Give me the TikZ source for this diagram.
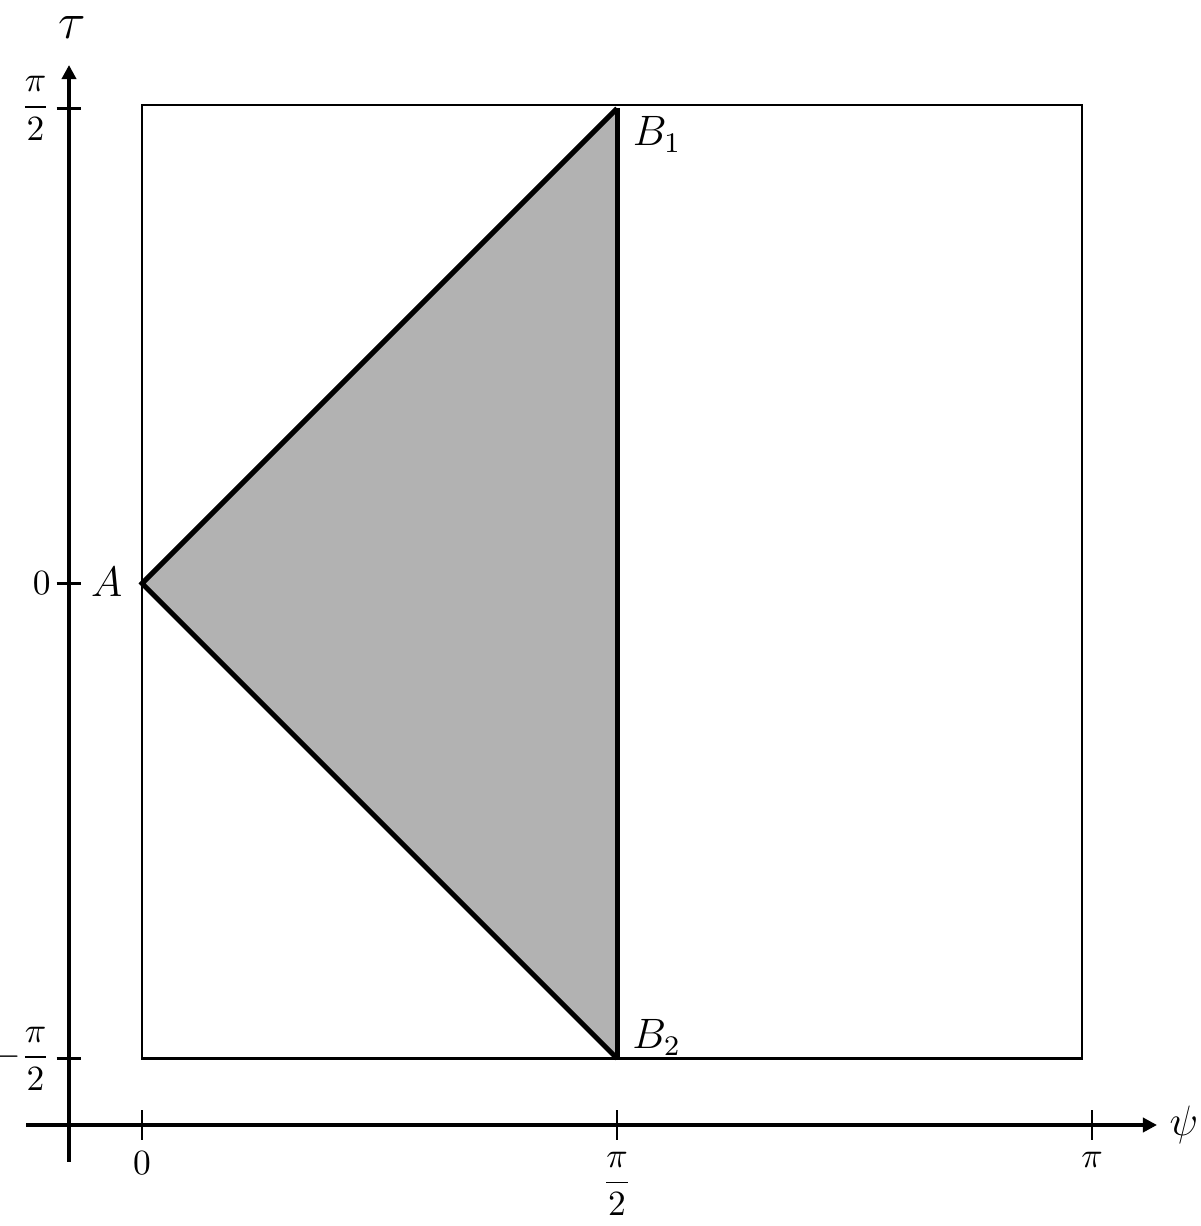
\documentclass[tikz,border=0pt]{standalone}
\usepackage{amsmath}
\usepackage{tikz}
\usetikzlibrary{arrows.meta, calc, positioning}

\tikzset{
    axisline/.style={line width=1.3pt, -{Triangle[length=4pt, width=4pt]}},
    tickmark/.style={semithick},
    wedgefill/.style={fill=black!30},
    wedgeline/.style={line width=1.4pt},
    ticklabel/.style={inner sep=1.5pt},
    ptlabel/.style={font=\large}
}

\begin{document}
\begin{tikzpicture}[x=3cm, y=3cm]
    \useasboundingbox (-0.4696,-2.1247) rectangle (3.4987,1.9296);

    % axes
    \coordinate (xs) at (-0.3836,-1.7907);
    \coordinate (xe) at (3.3565,-1.7907);
    \coordinate (ys) at (-0.2414,-1.913);
    \coordinate (ye) at (-0.2414,1.7146);
    \draw[axisline] (xs) -- (xe);
    \draw[axisline] (ys) -- (ye);
    \node[anchor=west, font=\large] (psi) at (xe) {$\psi$};
    \node[font=\Large] (tau) at (-0.231,1.837) {$\tau$};

    % ticks
    \foreach \x/\lab [count=\i] in {0/{$0$}, 1.5708/{$\dfrac{\pi}{2}$}, 3.1416/{$\pi$}} {
        \draw[tickmark] (\x,-1.7427) -- (\x,-1.8387);
        \node[anchor=north] (xl\i) at (\x,-1.8387) {\lab};
    }
    \foreach \y/\lab [count=\i] in {1.5708/{$\dfrac{\pi}{2}$}, 0/{$0$}, -1.5708/{$-\dfrac{\pi}{2}$}} {
        \draw[tickmark] (-0.2824,\y) -- (-0.2004,\y);
        \node[ticklabel, anchor=east] (yl\i) at (-0.2824,\y) {\lab};
    }

    % frame
    \draw[tickmark] (0,-1.5708) rectangle (3.108,1.582);

    % region
    \coordinate (A) at (0,0);
    \coordinate (B1) at (1.5708,1.5708);
    \coordinate (B2) at (1.5708,-1.5708);
    \fill[wedgefill] (A) -- (B1) -- (B2) -- cycle;
    \draw[wedgeline] (B1) -- (A) -- (B2);
    \draw[wedgeline] (B1) -- (B2);

    \node[ptlabel] (lA) at (-0.1167,0.005) {$A$};
    \node[ptlabel] (lB1) at (1.703,1.485) {$B_1$};
    \node[ptlabel] (lB2) at (1.702,-1.501) {$B_2$};
\end{tikzpicture}
\end{document}
